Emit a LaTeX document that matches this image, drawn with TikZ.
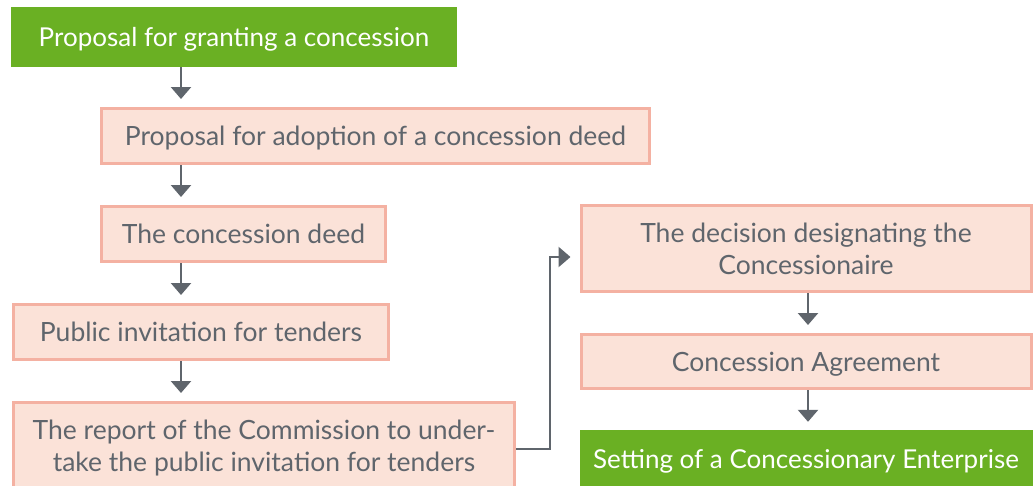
\documentclass[tikz,border=0pt]{standalone}
\usepackage{fontspec}
\setmainfont{Lato}
\usetikzlibrary{arrows.meta}
\definecolor{leaf}{HTML}{6AB023}
\definecolor{blush}{HTML}{FBE2D8}
\definecolor{blushline}{HTML}{F4B1A2}
\definecolor{slate}{HTML}{5F656C}

\begin{document}
\begin{tikzpicture}[x=1pt,y=-1pt,
  stage/.style={draw=blushline, line width=3pt, fill=blush, text=slate,
    align=center, inner sep=0pt, text depth=0pt,
    font=\fontsize{26.5}{32}\selectfont},
  endstage/.style={fill=leaf, text=white, align=center, inner sep=0pt,
    text depth=0pt, font=\fontsize{26}{32}\selectfont},
  flow/.style={draw=slate, line width=2.5pt,
    -{Triangle[width=20pt,length=12pt]}, shorten >=8pt}]

\clip (0,0) rectangle (1035,485);
\useasboundingbox (0,0) rectangle (1035,485);

% left column
\node[endstage, minimum width=446pt, minimum height=60pt] (grant) at (234,37)
  {Proposal for granting a concession};
\node[stage, minimum width=548pt, minimum height=55pt] (adopt) at (375.5,136)
  {Proposal for adoption of a concession deed};
\node[stage, minimum width=284pt, minimum height=55pt] (deed) at (243.5,234)
  {The concession deed};
\node[stage, minimum width=375pt, minimum height=55pt] (invite) at (201,332)
  {Public invitation for tenders};
\node[stage, minimum width=501pt, minimum height=86pt] (report) at (264,445.5)
  {The report of the Commission to under-\\take the public invitation for tenders};

% right column
\node[stage, minimum width=450pt, minimum height=86pt] (decision) at (806,248.5)
  {The decision designating the\\Concessionaire};
\node[stage, minimum width=450pt, minimum height=54pt] (agree) at (806,361.5)
  {Concession Agreement};
\node[endstage, minimum width=453pt, minimum height=58pt] (setting) at (806,459)
  {Setting of a Concessionary Enterprise};

\coordinate (lc) at (181,0);
\coordinate (rc) at (808,0);
\coordinate (bend) at (550,257);

\draw[flow] (lc |- grant.south) -- (lc |- adopt.north);
\draw[flow] (lc |- adopt.south) -- (lc |- deed.north);
\draw[flow] (lc |- deed.south) -- (lc |- invite.north);
\draw[flow] (lc |- invite.south) -- (lc |- report.north);

\draw[flow, shorten >=9pt] ([yshift=-3.5pt]report.east) -| (bend) -- (bend -| decision.west);

\draw[flow] (rc |- decision.south) -- (rc |- agree.north);
\draw[flow] (rc |- agree.south) -- (rc |- setting.north);

\end{tikzpicture}
\end{document}
